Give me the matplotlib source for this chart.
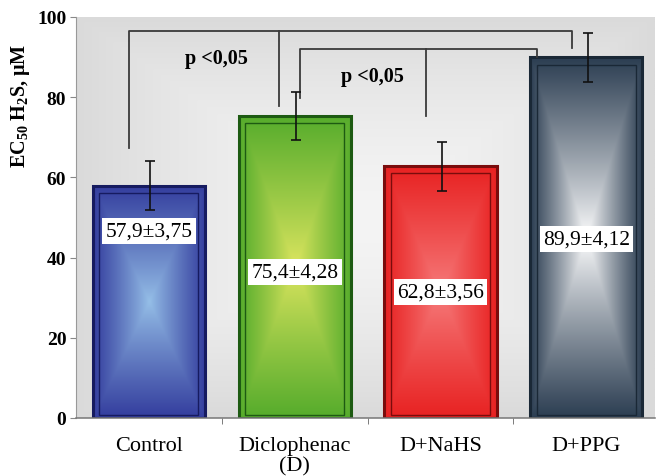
import numpy as np
import matplotlib.pyplot as plt
from matplotlib.patches import Rectangle

plt.rcParams['font.family'] = ['Liberation Serif', 'DejaVu Serif']
plt.rcParams['mathtext.fontset'] = 'custom'
plt.rcParams['mathtext.rm'] = 'Liberation Serif:bold'
plt.rcParams['mathtext.bf'] = 'Liberation Serif:bold'

groups = ['Control', 'Diclophenac\n(D)', 'D+NaHS', 'D+PPG']
means = [57.9, 75.4, 62.8, 89.9]
errs = [6.1, 6.0, 6.1, 6.1]
labels = ['57,9±3,75', '75,4±4,28', '62,8±3,56', '89,9±4,12']
label_y = [46.6, 36.4, 31.4, 44.6]

edge_rgb = [(52, 62, 158), (86, 172, 44), (232, 34, 34), (44, 62, 82)]
center_rgb = [(150, 192, 232), (222, 230, 96), (246, 124, 124), (255, 255, 255)]
outline = ['#161b60', '#1d5a12', '#7a0c0c', '#1a2836']

W = 0.77


def center_gradient(c_in, c_out, nx=80, ny=160, power=1.0):
    # rectangular "from centre" gradient -> gives the X shaped creases
    u = np.linspace(-1, 1, nx)
    v = np.linspace(-1, 1, ny)
    U, V = np.meshgrid(u, v)
    d = np.maximum(np.abs(U), np.abs(V)) ** power
    c_in = np.array(c_in) / 255.0
    c_out = np.array(c_out) / 255.0
    return c_in[None, None, :] * (1 - d[..., None]) + c_out[None, None, :] * d[..., None]


fig = plt.figure(figsize=(6.57, 4.77), dpi=100)
ax = fig.add_axes([0.1157, 0.1216, 0.881, 0.8407])
ax.set_xlim(-0.5, 3.47)
ax.set_ylim(0, 100)

# plot area background
bg = center_gradient((244, 244, 244), (218, 218, 218), 200, 200, 1.6)
ax.imshow(bg, extent=(-0.5, 3.47, 0, 100), aspect='auto', zorder=0, interpolation='bilinear')

for i, (m, e) in enumerate(zip(means, errs)):
    x0 = i - W / 2
    img = center_gradient(center_rgb[i], edge_rgb[i], power=0.9)
    ax.imshow(img, extent=(x0, x0 + W, 0, m), aspect='auto', zorder=1, interpolation='bilinear')
    ax.add_patch(Rectangle((x0, 0), W, m, fill=False, ec=outline[i], lw=2.2, zorder=2))
    ax.add_patch(Rectangle((x0 + 0.045, 0.8), W - 0.09, m - 2.6, fill=False,
                           ec=outline[i], lw=1.0, zorder=2))
    ax.errorbar(i + 0.01, m, yerr=e, fmt='none', ecolor='#111111', elinewidth=1.2,
                capsize=3.5, capthick=1.2, zorder=4)
    ax.text(i, label_y[i], labels[i], ha='center', va='center', fontsize=15.5, zorder=5,
            bbox=dict(boxstyle='square,pad=0.15', fc='white', ec='none'))

# significance brackets
lc = '#3a3a3a'
ax.plot([-0.137, -0.137, 2.90, 2.90], [67.3, 96.5, 96.5, 92.3], color=lc, lw=1.3, zorder=3)
ax.plot([0.89, 0.89], [96.5, 77.8], color=lc, lw=1.3, zorder=3)
ax.plot([1.034, 1.034, 2.66, 2.66], [79.8, 92.0, 92.0, 90.0], color=lc, lw=1.3, zorder=3)
ax.plot([1.90, 1.90], [92.0, 75.3], color=lc, lw=1.3, zorder=3)
ax.text(0.46, 89.8, 'p <0,05', ha='center', va='center', fontsize=14.5, fontweight='bold', zorder=5)
ax.text(1.53, 85.4, 'p <0,05', ha='center', va='center', fontsize=14.5, fontweight='bold', zorder=5)

ax.set_yticks(np.arange(0, 101, 20))
ax.set_yticklabels([str(v) for v in range(0, 101, 20)], fontsize=14, fontweight='bold')
ax.set_xticks(range(4))
ax.set_xticklabels(groups, fontsize=16, linespacing=1.1)
ax.set_xticks([0.5, 1.5, 2.5], minor=True)
ax.tick_params(axis='x', which='major', length=0, pad=13)
ax.tick_params(axis='x', which='minor', length=4, color='#666666')
ax.tick_params(axis='y', length=4, color='#888888', pad=3)
for s in ['top', 'right']:
    ax.spines[s].set_visible(False)
ax.spines['left'].set_color('#999999')
ax.spines['bottom'].set_color('#777777')
ax.spines['bottom'].set_linewidth(1.1)

ax.set_ylabel(r'EC$_{\mathbf{50}}$ H$_{\mathbf{2}}$S, μM', fontsize=14.5, fontweight='bold')
ax.yaxis.set_label_coords(-0.076, 0.78)

fig.savefig('out.png', dpi=100)
